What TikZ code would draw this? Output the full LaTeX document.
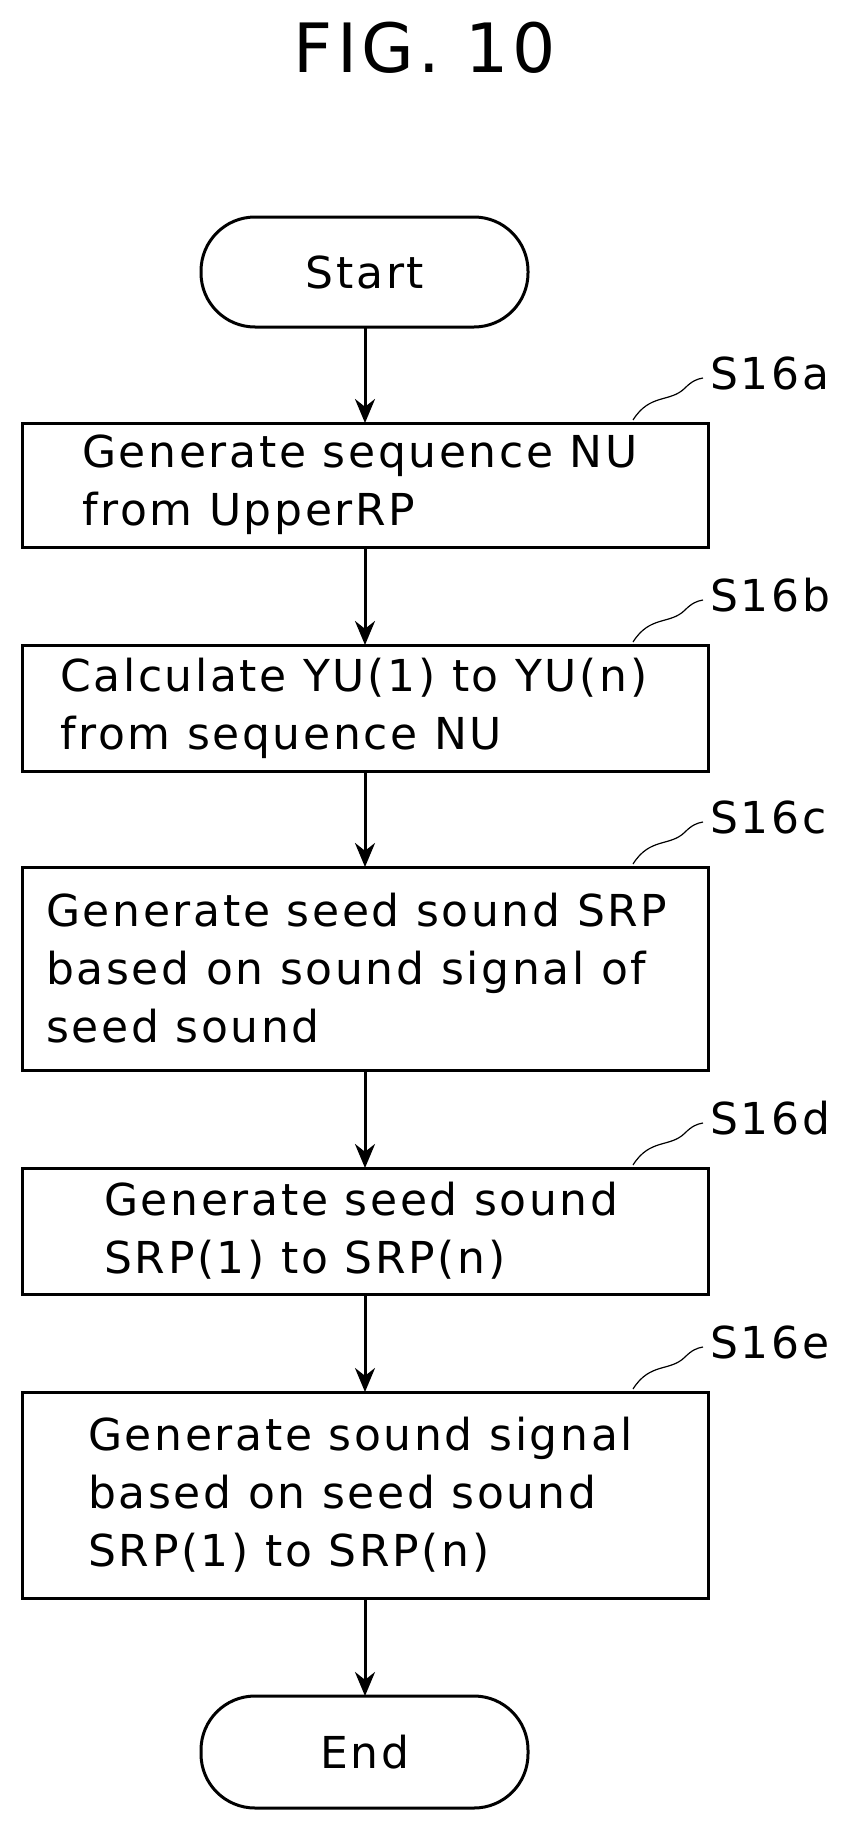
\documentclass[tikz,border=0pt]{standalone}
\usepackage{fontspec}
\setmainfont{DejaVu Sans}[LetterSpace=6]
\usetikzlibrary{arrows.meta}
\begin{document}
\begin{tikzpicture}[x=1pt,y=-1pt,
  box/.style={draw,line width=3pt},
  term/.style={draw,line width=3pt,rounded corners=54pt},
  txt/.style={anchor=west,align=left,font=\fontsize{44}{58}\selectfont,inner sep=0pt},
  lab/.style={anchor=west,font=\fontsize{44}{50}\selectfont,inner sep=0pt},
  arr/.style={line width=3pt,-{Stealth[length=24pt,width=20pt]}},
  lead/.style={line width=1.2pt}]
\useasboundingbox (0,0) rectangle (851,1822);
\node[font=\fontsize{68}{70}\selectfont] (title) at (425,48) {FIG. 10};
\draw[term] (201,217) rectangle (528,327);
\node (start) at (365,272) [font=\fontsize{44}{50}\selectfont] {Start};
\draw[box] (22,423) rectangle (708,547);
\draw[box] (22,645) rectangle (708,771);
\draw[box] (22,867) rectangle (708,1070);
\draw[box] (22,1168) rectangle (708,1294);
\draw[box] (22,1392) rectangle (708,1598);
\draw[term] (201,1696) rectangle (528,1808);
\node (end) at (365,1752) [font=\fontsize{44}{50}\selectfont] {End};
\node[txt] (ta) at (82,485) {Generate sequence NU\\from UpperRP};
\node[txt] (tb) at (60,708) {Calculate YU(1) to YU(n)\\from sequence NU};
\node[txt] (tc) at (46,968) {Generate seed sound SRP\\based on sound signal of\\seed sound};
\node[txt] (td) at (104,1231) {Generate seed sound\\SRP(1) to SRP(n)};
\node[txt] (te) at (88,1495) {Generate sound signal\\based on seed sound\\SRP(1) to SRP(n)};
\draw[arr] (365,327) -- (365,423);
\draw[arr] (365,547) -- (365,645);
\draw[arr] (365,771) -- (365,867);
\draw[arr] (365,1070) -- (365,1168);
\draw[arr] (365,1294) -- (365,1392);
\draw[arr] (365,1598) -- (365,1696);
\foreach \y/\l in {423/a,645/b,867/c,1168/d,1392/e}{
  \draw[lead] (633,\y-3) .. controls (650,\y-30) and (670,\y-20) .. (685,\y-35)
     .. controls (692,\y-42) and (697,\y-44) .. (703,\y-45);
  \node[lab] at (710,\y-50) {S16\l};
}
\end{tikzpicture}
\end{document}
